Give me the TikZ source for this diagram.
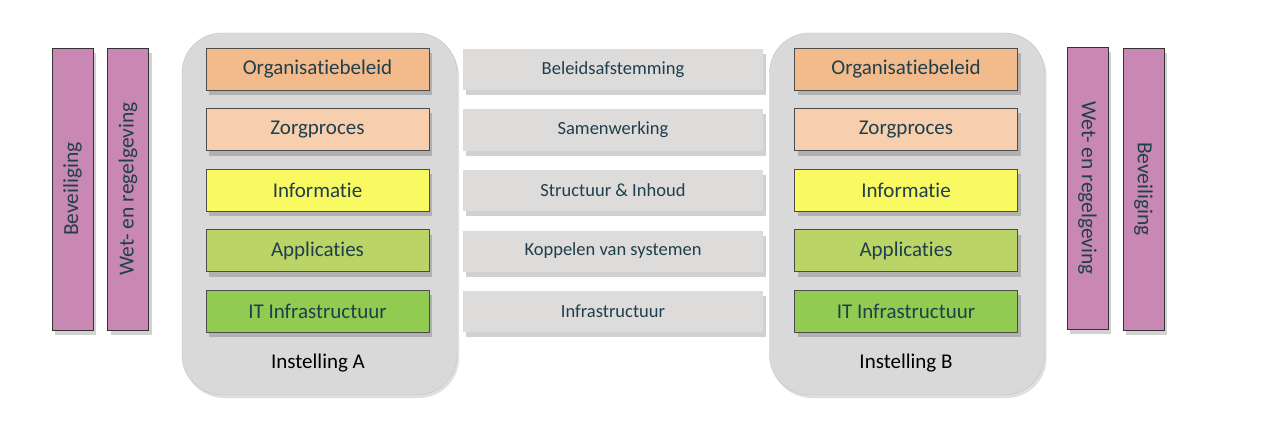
\documentclass[tikz,border=0pt]{standalone}
\usepackage{fontspec}
\setmainfont{Carlito}[Ligatures={NoCommon,NoContextual},Contextuals=NoAlternate]
\usetikzlibrary{positioning,shadows}
\definecolor{Ink}{HTML}{1F3F4C}
\definecolor{OrgFill}{HTML}{F3BA8B}
\definecolor{ZorgFill}{HTML}{F7CEAE}
\definecolor{InfoFill}{HTML}{F9F962}
\definecolor{AppFill}{HTML}{BAD467}
\definecolor{ItFill}{HTML}{92CB51}
\definecolor{LinkFill}{HTML}{DEDBDB}
\definecolor{PillarFill}{HTML}{C988B3}
\definecolor{HouseFill}{HTML}{D9D9D9}

\begin{document}
\begin{tikzpicture}[x=1pt,y=-1pt,
  shade/.style={drop shadow={shadow xshift=3pt,shadow yshift=-5pt,opacity=.18,fill=black}},
  house/.style={fill=HouseFill,draw=HouseFill!90!black,rounded corners=40pt,
    minimum width=275pt,minimum height=362pt,inner sep=0pt,
    drop shadow={shadow xshift=2pt,shadow yshift=-3pt,opacity=.12,fill=black}},
  layer/.style={fill=#1,draw=gray!60!black,minimum width=223pt,minimum height=42pt,
    inner sep=0pt,text=Ink,font=\fontsize{21}{23}\selectfont,shade},
  link/.style={fill=LinkFill,minimum width=300pt,minimum height=41pt,inner sep=0pt,
    text=Ink,font=\fontsize{18.5}{20}\selectfont,shade},
  pillar/.style={fill=PillarFill,draw=gray!40!black,minimum width=282pt,minimum height=41pt,
    inner sep=0pt,text=Ink,font=\fontsize{21.5}{23}\selectfont,shade},
  caption/.style={font=\fontsize{21}{23}\selectfont,text=black}]
  \useasboundingbox (0,0) rectangle (1276,433);

  \node[house] (houseA) at (319.5,214) {};
  \node[house] (houseB) at (907,214) {};
  \node[caption] (capA) at (318,363) {Instelling A};
  \node[caption] (capB) at (906,363) {Instelling B};

  \foreach \n/\c/\t [count=\i] in {org/OrgFill/Organisatiebeleid,zorg/ZorgFill/Zorgproces,
      info/InfoFill/Informatie,app/AppFill/Applicaties,it/ItFill/IT Infrastructuur}{
    \node[layer=\c] (A\n) at (317.5,{69+60.5*(\i-1)}) {\t};
    \node[layer=\c] (B\n) at (906,{69+60.5*(\i-1)}) {\t};
  }

  \foreach \n/\t [count=\i] in {beleid/Beleidsafstemming,samen/Samenwerking,
      struct/Structuur \& Inhoud,kop/Koppelen van systemen,infra/Infrastructuur}
    \node[link] (L\n) at (613,{69.5+60.5*(\i-1)}) {\t};

  \node[pillar,rotate=90] (bevA) at (72.5,189) {Beveiliging};
  \node[pillar,rotate=90] (wetA) at (128,189) {Wet- en regelgeving};
  \node[pillar,rotate=-90] (wetB) at (1087.5,188) {Wet- en regelgeving};
  \node[pillar,rotate=-90] (bevB) at (1143.5,189) {Beveiliging};
\end{tikzpicture}
\end{document}
